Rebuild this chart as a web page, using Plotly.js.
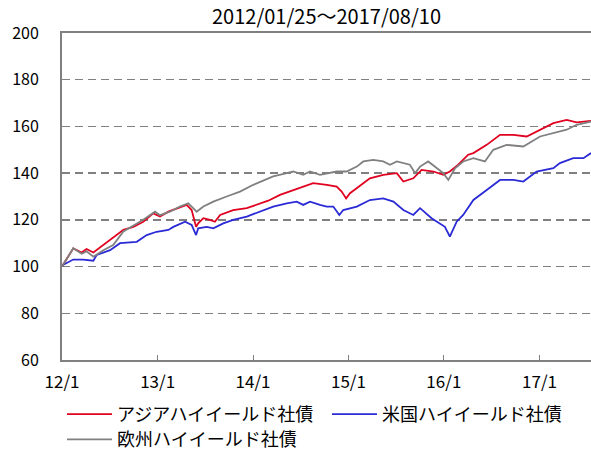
<!DOCTYPE html>
<html><head><meta charset="utf-8">
<script src="https://cdn.plot.ly/plotly-3.0.1.min.js"></script>
<style>html,body{margin:0;padding:0;background:#fff}#chart{width:591px;height:450px}</style>
</head><body><div id="chart"></div>
<script>
const asiaDates = ["2012-01-25","2012-03-08","2012-04-09","2012-04-28","2012-05-24","2012-07-01","2012-07-27","2012-09-16","2012-10-24","2012-12-01","2013-01-08","2013-02-03","2013-03-07","2013-03-26","2013-05-16","2013-06-04","2013-06-21","2013-06-29","2013-07-19","2013-08-13","2013-09-01","2013-09-21","2013-11-10","2014-01-01","2014-02-21","2014-03-24","2014-05-08","2014-06-28","2014-08-05","2014-09-12","2014-11-03","2014-12-11","2014-12-30","2015-01-16","2015-01-31","2015-03-10","2015-04-17","2015-06-07","2015-07-29","2015-08-23","2015-09-30","2015-11-01","2015-12-16","2016-01-23","2016-02-17","2016-03-20","2016-04-27","2016-05-17","2016-07-07","2016-08-27","2016-10-17","2016-12-07","2017-01-27","2017-03-19","2017-05-09","2017-06-16","2017-08-10"];
const asiaValues = [100,107.8,106,107.5,106,109.2,111.4,115.7,117,119.2,122.8,121.4,123.5,124.2,126.4,124.2,117,118.5,120.7,120,119.2,122.1,124.2,125,126.8,128.2,130.7,132.8,134.2,135.7,135,134.2,132.1,129.2,131.4,134.6,137.8,139.3,140,136.4,137.8,141.4,140.7,139.3,140.7,143.6,147.9,148.6,152.1,156.4,156.4,155.7,158.6,161.4,162.8,161.7,162.4];

const usDates = ["2012-01-25","2012-03-08","2012-04-15","2012-05-24","2012-06-06","2012-07-27","2012-09-03","2012-11-06","2012-12-14","2013-01-21","2013-03-07","2013-03-26","2013-05-10","2013-06-04","2013-06-21","2013-06-29","2013-08-01","2013-08-26","2013-10-03","2013-11-10","2014-01-01","2014-02-08","2014-03-24","2014-04-12","2014-06-03","2014-07-11","2014-08-05","2014-08-31","2014-10-08","2014-11-03","2014-11-28","2014-12-21","2015-01-05","2015-02-26","2015-04-17","2015-06-07","2015-07-16","2015-08-23","2015-09-30","2015-10-26","2015-12-09","2016-01-10","2016-01-29","2016-02-17","2016-03-14","2016-04-08","2016-05-17","2016-07-07","2016-08-27","2016-10-17","2016-11-24","2017-01-14","2017-03-19","2017-04-13","2017-06-03","2017-07-12","2017-08-10"];
const usValues = [100.5,103,103,102.5,105,107,110,110.6,113.5,114.9,115.7,117,119.2,117.8,113.5,116.4,117,116.4,118.5,120,121.4,123,125,125.7,127.1,127.8,126.4,127.8,126.4,125.7,125.7,122.1,124.2,125.7,128.5,129.2,127.8,124.2,122.1,125,120.7,118.5,117,112.8,119.2,122.1,128.5,132.8,137.1,137.1,136.4,140.7,142.1,144.3,146.4,146.4,148.6];

const euDates = ["2012-01-25","2012-03-08","2012-04-09","2012-04-28","2012-05-24","2012-07-01","2012-08-08","2012-09-16","2012-12-01","2013-01-15","2013-02-03","2013-03-13","2013-04-20","2013-05-22","2013-06-10","2013-06-23","2013-07-19","2013-08-26","2013-10-16","2013-12-06","2014-01-26","2014-03-18","2014-04-12","2014-06-03","2014-06-28","2014-08-05","2014-08-31","2014-10-08","2014-11-03","2014-12-11","2015-01-18","2015-02-26","2015-03-23","2015-04-30","2015-06-07","2015-07-03","2015-07-29","2015-08-23","2015-09-17","2015-10-07","2015-10-26","2015-11-26","2015-12-22","2016-01-23","2016-02-11","2016-03-08","2016-04-08","2016-05-17","2016-06-30","2016-08-01","2016-09-21","2016-11-24","2017-01-27","2017-03-19","2017-05-09","2017-06-16","2017-08-10"];
const euValues = [100,107.8,105.5,106.5,104.2,107,109.2,115,120,123.5,122,123.5,125.7,127.1,125,123.5,125.7,127.8,130,132.1,135,137.4,138.6,140,140.7,139.3,140.7,139.3,140,140.7,140.7,142.8,145,145.7,145,143.6,145,144.3,143.6,140,142.8,145,142.8,140,137.1,142.1,145,146.4,145,150,152.1,151.4,155.7,157.1,158.6,160.7,162.1];

const seriesNames = ["アジアハイイールド社債","米国ハイイールド社債","欧州ハイイールド社債"];
const tickDates = ["2012-01-25","2013-01-25","2014-01-25","2015-01-25","2016-01-25","2017-01-25"];
const tickLabels = ["12/1","13/1","14/1","15/1","16/1","17/1"];
const yTicks = [60,80,100,120,140,160,180,200];

const font = "Noto Sans CJK JP, sans-serif";
const traces = [
  {x: asiaDates, y: asiaValues, name: seriesNames[0], legend: "legend", line:{color:"#E0001F", width:1.8}},
  {x: usDates, y: usValues, name: seriesNames[1], legend: "legend2", line:{color:"#2A2AD6", width:1.8}},
  {x: euDates, y: euValues, name: seriesNames[2], legend: "legend3", line:{color:"#808080", width:1.8}}
].map(t => Object.assign({type:"scatter", mode:"lines", hoverinfo:"skip"}, t));

const legendBase = {orientation: "h", xanchor: "left", yref: "container", yanchor: "top", itemwidth: 45, font: {family: font, size: 18, color:"#000"}, bgcolor: "rgba(0,0,0,0)"};

const layout = {
  width: 591, height: 450,
  margin: {l: 62, r: 0, t: 33, b: 90, autoexpand: false},
  paper_bgcolor: "#fff", plot_bgcolor: "#fff",
  font: {family: font, color: "#000", size: 15},
  title: {text: "2012/01/25～2017/08/10", x: 0.5, xref: "paper", xanchor: "center", y: 0.962, yanchor: "middle", font: {family: font, size: 20, color: "#000"}},
  showlegend: true,
  legend: Object.assign({}, legendBase, {x: 0, y: 0.12}),
  legend2: Object.assign({}, legendBase, {x: 0.501, y: 0.12}),
  legend3: Object.assign({}, legendBase, {x: 0, y: 0.064}),
  xaxis: {
    type: "date", range: ["2012-01-25","2017-08-10"],
    tickmode: "array", tickvals: tickDates, ticktext: tickLabels,
    showgrid: false, zeroline: false,
    showline: true, linecolor: "#808080", linewidth: 2, mirror: true,
    ticks: "inside", ticklen: 5, tickcolor: "#808080", tickwidth: 1,
    ticklabelstandoff: 6,
    tickfont: {family: font, size: 17, color: "#000"}
  },
  yaxis: {
    range: [60, 200], tickmode: "array", tickvals: yTicks,
    showgrid: true, gridcolor: "#808080", gridwidth: 1.5, griddash: "8px,5px",
    zeroline: false, showline: true, linecolor: "#808080", linewidth: 2,
    ticks: "", ticklabelstandoff: 18,
    tickfont: {family: font, size: 16, color: "#000"}
  }
};
Plotly.newPlot("chart", traces, layout, {staticPlot: true, displayModeBar: false});
</script></body></html>
